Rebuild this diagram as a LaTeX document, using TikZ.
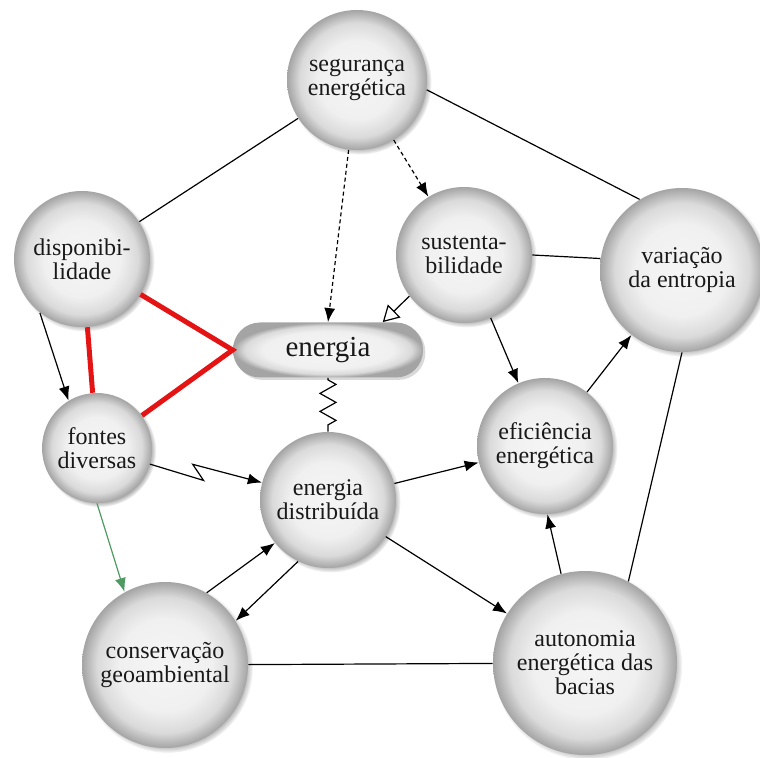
\documentclass[tikz,border=0pt]{standalone}
\usepackage{fontspec}
\setmainfont{Liberation Serif}
\usepackage{tikz}
\usetikzlibrary{arrows.meta,shadows,decorations.pathmorphing,calc}
\definecolor{bubin}{HTML}{F5F5F5}
\definecolor{bubmid}{HTML}{F0F0F0}
\definecolor{bubrim}{HTML}{DADADA}
\definecolor{bubout}{HTML}{A4A4A4}
\definecolor{linkgreen}{HTML}{4F9A62}
\definecolor{linkred}{HTML}{E41414}
\pgfdeclareradialshading{bubble}{\pgfpointorigin}{color(0bp)=(bubin); color(14bp)=(bubmid); color(20.5bp)=(bubrim); color(25bp)=(bubout); color(50bp)=(bubout)}
\pgfdeclareradialshading{pill}{\pgfpointorigin}{color(0bp)=(bubin); color(17bp)=(bubmid); color(22bp)=(bubrim); color(25bp)=(bubout); color(50bp)=(bubout)}

\begin{document}
\begin{tikzpicture}[x=0.5pt, y=-0.5pt,
    main/.style = {circle, shading=bubble, inner sep=0pt, align=center, text=black!90, font=\fontsize{12}{12}\selectfont, circular drop shadow={shadow xshift=1.2pt, shadow yshift=-1.2pt, shadow scale=1.03}},
    box/.style = {rectangle, rounded corners=13.5pt, shading=pill, minimum width=95pt, minimum height=27.5pt, text=black!90, font=\fontsize{14.5}{14.5}\selectfont, drop shadow={shadow xshift=1.2pt, shadow yshift=-1.2pt, opacity=0.3}},
    link/.style = {line width=0.6pt},
    arr/.style = {link, -{Latex[length=7pt,width=5.5pt]}},
    dasharr/.style = {arr, dash pattern=on 2pt off 1.5pt},
    redline/.style = {line width=2.5pt, linkred, line join=miter},
    springline/.style = {link, decorate, decoration={zigzag, amplitude=4pt, segment length=9pt, pre length=1pt, post length=1pt}}]
    \useasboundingbox (0,0) rectangle (760,758);
    \node[main, minimum size=70pt] (1) at (357,80) {segurança\\energética};
    \node[main, minimum size=68pt] (2) at (82,259) {disponibi-\\lidade};
    \node[main, minimum size=68pt] (3) at (464,255) {sustenta-\\bilidade};
    \node[main, minimum size=55pt] (4) at (97,448) {fontes\\diversas};
    \node[box] (5) at (328,350) {energia};
    \node[main, minimum size=68pt] (6) at (328,500) {energia\\distribuída};
    \node[main, minimum size=68pt] (7) at (545,446) {eficiência\\energética};
    \node[main, minimum size=82pt] (8) at (682,270) {variação\\da entropia};
    \node[main, minimum size=83pt] (9) at (165,665) {conservação\\geoambiental};
    \node[main, minimum size=92pt] (10) at (585,663) {autonomia\\energética das\\bacias};
    \draw[link] (1) -- (2);
    \draw[link] (1.352) -- (8.121);
    \draw[dasharr] (1) -- (5.north);
    \draw[dasharr] (1) -- (3);
    \draw[link] (3.east) -- (8.172);
    \draw[link, -{Triangle[open,length=8pt,width=9pt]}] (3.217) -- (5.27);
    \draw[arr] (3) -- (7);
    \draw[arr] (7) -- (8);
    \draw[link] (8.south) -- (10.62);
    \draw[arr] (10.105) -- (7.272);
    \draw[arr] (6) -- (7);
    \draw[arr] (6) -- (10);
    \draw[arr] (9.60) -- (6.219);
    \draw[arr] (6.244) -- (9.32);
    \draw[link] (9) -- (10);
    \draw[arr, linkgreen] (4.south) -- (9.119);
    \draw[arr] (4) -- ($(4)!0.47!(6)+(-2,8)$) -- ($(4)!0.41!(6)+(1,-5)$) -- (6);
    \draw[springline] (5.south) -- (6.north);
    \draw[arr] (2.232) -- (4.121);
    \draw[redline] (2) -- (4);
    \draw[redline] (2) -- (5.west) -- (4);
\end{tikzpicture}
\end{document}
